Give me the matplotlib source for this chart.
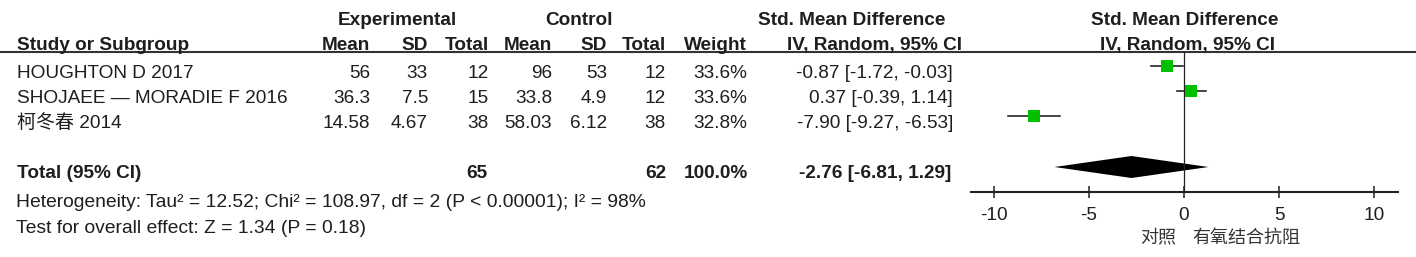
import numpy as np
import matplotlib
matplotlib.use("Agg")
import matplotlib.pyplot as plt
from matplotlib import rcParams

rcParams['font.family'] = ['Liberation Sans', 'Noto Sans CJK SC', 'DejaVu Sans']

# %% data
studies = ["HOUGHTON D 2017", "SHOJAEE \u2014 MORADIE F 2016", "柯冬春 2014"]
exp_mean = [56, 36.3, 14.58]
exp_sd = [33, 7.5, 4.67]
exp_n = [12, 15, 38]
ctl_mean = [96, 33.8, 58.03]
ctl_sd = [53, 4.9, 6.12]
ctl_n = [12, 12, 38]
weight = [33.6, 33.6, 32.8]
smd = [-0.87, 0.37, -7.90]
ci_lo = [-1.72, -0.39, -9.27]
ci_hi = [-0.03, 1.14, -6.53]

total_n_exp = 65
total_n_ctl = 62
total_weight = 100.0
total_smd = -2.76
total_lo = -6.81
total_hi = 1.29

heterogeneity = "Heterogeneity: Tau\u00b2 = 12.52; Chi\u00b2 = 108.97, df = 2 (P < 0.00001); I\u00b2 = 98%"
overall = "Test for overall effect: Z = 1.34 (P = 0.18)"
ticks = [-10, -5, 0, 5, 10]
favours_left = "对照"
favours_right = "有氧结合抗阻"

# %% layout (pixels)
W, H = 1416, 257
fs = 13.7
txt = '#1e1e1e'
green = '#00c000'

row_base = [78 + 25 * i for i in range(len(studies))]
total_base = 178

fig = plt.figure(figsize=(W / 100, H / 100), dpi=100)
ax0 = fig.add_axes([0, 0, 1, 1])
ax0.set_xlim(0, W)
ax0.set_ylim(H, 0)
ax0.axis('off')


def put(x, y, s, ha='right', bold=False, size=fs):
    ax0.text(x, y, s, ha=ha, va='baseline', fontsize=size,
             fontweight='bold' if bold else 'normal', color=txt)


# ---- header ----
put(397, 25, "Experimental", ha='center', bold=True)
put(579, 25, "Control", ha='center', bold=True)
put(852, 25, "Std. Mean Difference", ha='center', bold=True)
put(1185, 25, "Std. Mean Difference", ha='center', bold=True)

put(17, 50, "Study or Subgroup", ha='left', bold=True)
col_x = [370, 428, 489, 552, 607, 666, 747]
for x, h in zip(col_x, ["Mean", "SD", "Total", "Mean", "SD", "Total", "Weight"]):
    put(x, 50, h, bold=True)
put(962, 50, "IV, Random, 95% CI", bold=True)
put(1188, 50, "IV, Random, 95% CI", ha='center', bold=True)

ax0.plot([0, W], [51.5, 51.5], color='#333333', lw=1.5, solid_capstyle='butt')

# ---- study rows ----
for i, y in enumerate(row_base):
    put(17, y, studies[i], ha='left')
    vals = [exp_mean[i], exp_sd[i], exp_n[i], ctl_mean[i], ctl_sd[i], ctl_n[i]]
    for x, v in zip(col_x[:6], vals):
        put(x, y, f"{v:g}")
    put(col_x[6], y, f"{weight[i]:.1f}%")
    put(953, y, f"{smd[i]:.2f} [{ci_lo[i]:.2f}, {ci_hi[i]:.2f}]")

# ---- total row ----
put(17, total_base, "Total (95% CI)", ha='left', bold=True)
put(487, total_base, f"{total_n_exp}", bold=True)
put(666, total_base, f"{total_n_ctl}", bold=True)
put(748, total_base, f"{total_weight:.1f}%", bold=True)
put(951, total_base, f"{total_smd:.2f} [{total_lo:.2f}, {total_hi:.2f}]", bold=True)

put(16, 207, heterogeneity, ha='left', size=13.9)
put(16, 233, overall, ha='left', size=13.9)

# %% forest panel
x_left, x_right = 971, 1398
y_top, y_axis = 52, 192
ax = fig.add_axes([x_left / W, 1 - y_axis / H, (x_right - x_left) / W, (y_axis - y_top) / H])
ax.patch.set_alpha(0)
ax.set_xlim(-11.2, 11.26)
ax.set_ylim(y_axis, y_top)
for s in ['top', 'left', 'right']:
    ax.spines[s].set_visible(False)
ax.spines['bottom'].set_linewidth(1.5)
ax.spines['bottom'].set_color('#222222')
ax.set_yticks([])
ax.set_xticks(ticks)
ax.set_xticklabels([f"{t}" for t in ticks])
ax.tick_params(axis='x', direction='inout', length=8, width=1.1, color='#222222',
               labelsize=13.7, labelcolor=txt, pad=6.5)

ax.axvline(0, color='#222222', lw=0.9)

mark_y = [y - 11.5 for y in row_base]
for i in range(len(studies)):
    ax.plot([ci_lo[i], ci_hi[i]], [mark_y[i], mark_y[i]], color='#111111', lw=1.1)
    ax.plot(smd[i], mark_y[i], 's', color=green, markersize=9.0 * np.sqrt(weight[i] / 33.6),
            markeredgewidth=0)

dy = total_base - 11
ax.fill([total_lo, total_smd, total_hi, total_smd], [dy, dy - 11, dy, dy + 11],
        color='black', lw=0)

ax0.text(1176, 243, favours_left, ha='right', va='baseline', fontsize=13,
         color='#333333', family=['Noto Sans CJK SC'], fontweight='light')
ax0.text(1192, 243, favours_right, ha='left', va='baseline', fontsize=13,
         color='#333333', family=['Noto Sans CJK SC'], fontweight='light')

fig.savefig("out.png", dpi=100)
